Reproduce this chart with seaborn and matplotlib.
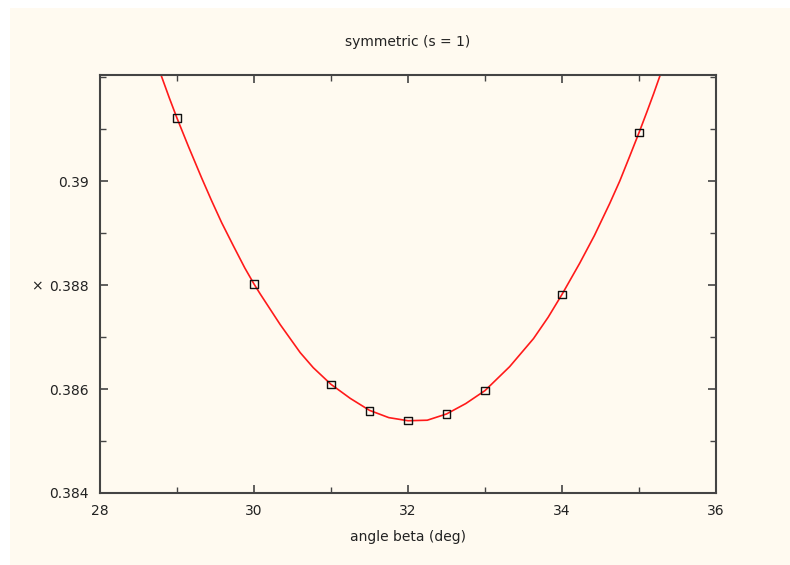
import numpy as np
import pandas as pd
import matplotlib
matplotlib.use("Agg")
import matplotlib.pyplot as plt
import seaborn as sns
from matplotlib.patches import Rectangle
from matplotlib.ticker import MultipleLocator

# ── Data ──────────────────────────────────────────────────────────────────────
beta_pts = [29, 30, 31, 31.5, 32, 32.5, 33, 34, 35]
x_pts = [0.39121, 0.38802, 0.38609, 0.38558, 0.38539, 0.38552, 0.38597, 0.38782, 0.39093]

# fitted curve
beta_fit = [28.79, 28.9, 29.0, 29.15, 29.32, 29.45, 29.58, 29.73, 29.88, 30.0,
            30.08, 30.34, 30.60, 30.77, 31.0, 31.25, 31.5, 31.75, 32.0, 32.25,
            32.5, 32.75, 33.0, 33.32, 33.63, 33.82, 34.0, 34.23, 34.42, 34.62,
            34.75, 34.88, 35.0, 35.1, 35.19, 35.29]
x_fit = [0.39205, 0.39160, 0.39121, 0.39066, 0.39006, 0.38962, 0.38920, 0.38876,
         0.38833, 0.38802, 0.38783, 0.38724, 0.38670, 0.38641, 0.38609, 0.38582,
         0.38559, 0.38545, 0.38539, 0.38540, 0.38552, 0.38572, 0.38597, 0.38643,
         0.38697, 0.38738, 0.38782, 0.38842, 0.38895, 0.38957, 0.39000, 0.39048,
         0.39093, 0.39132, 0.39168, 0.39210]

TITLE = "symmetric (s = 1)"
XLABEL = "angle beta (deg)"

BG = "#fffaf0"
INK = "#222222"
SPINE = "#444444"

sns.set_theme(style="ticks")
plt.rcParams["font.family"] = ["DejaVu Sans"]

fig = plt.figure(figsize=(7.9, 5.65), dpi=100, facecolor=BG)
# thin white margin along top and left edges, like the original
fig.patches.append(Rectangle((0, 0), 10 / 790, 1, transform=fig.transFigure,
                             facecolor="white", edgecolor="none", zorder=-10))
fig.patches.append(Rectangle((0, 1 - 8 / 565), 1, 8 / 565, transform=fig.transFigure,
                             facecolor="white", edgecolor="none", zorder=-10))

ax = fig.add_axes([100 / 790, 1 - 493 / 565, 616 / 790, 418 / 565])
ax.set_facecolor(BG)

fit_df = pd.DataFrame({"beta": beta_fit, "x": x_fit})
pts_df = pd.DataFrame({"beta": beta_pts, "x": x_pts})

sns.lineplot(data=fit_df, x="beta", y="x", ax=ax, sort=False, estimator=None,
             color="#ff1a1a", linewidth=1.2, zorder=2)
sns.scatterplot(data=pts_df, x="beta", y="x", ax=ax, marker="s", s=28,
                facecolor="none", edgecolor="#111111", linewidth=1.0, zorder=3)

ax.set_xlim(28, 36)
ax.set_ylim(0.384, 0.39204)
ax.xaxis.set_minor_locator(MultipleLocator(1))
ax.yaxis.set_minor_locator(MultipleLocator(0.001))
ax.set_xticks([28, 30, 32, 34, 36])
ax.set_xticklabels(["28", "30", "32", "34", "36"])
ax.set_yticks([0.384, 0.386, 0.388, 0.39])
ax.set_yticklabels(["0.384", "0.386", "0.388", "0.39"])

ax.tick_params(which="both", direction="in", top=True, right=True,
               colors=SPINE, labelcolor=INK, labelsize=10)
ax.tick_params(which="major", length=6, width=1.2, pad=8)
ax.tick_params(which="minor", length=4, width=1.0)
for sp in ax.spines.values():
    sp.set_color(SPINE)
    sp.set_linewidth(1.5)

ax.set_xlabel("")
ax.set_ylabel("")
fig.text(408 / 790, 1 - 42 / 565, TITLE, ha="center", va="center", fontsize=10, color=INK)
fig.text(408 / 790, 1 - 537 / 565, XLABEL, ha="center", va="center", fontsize=10, color=INK)
fig.text(37 / 790, 1 - 286 / 565, "×", ha="center", va="center", fontsize=10, color=INK)

fig.savefig("out.png", dpi=100, facecolor=fig.get_facecolor())
